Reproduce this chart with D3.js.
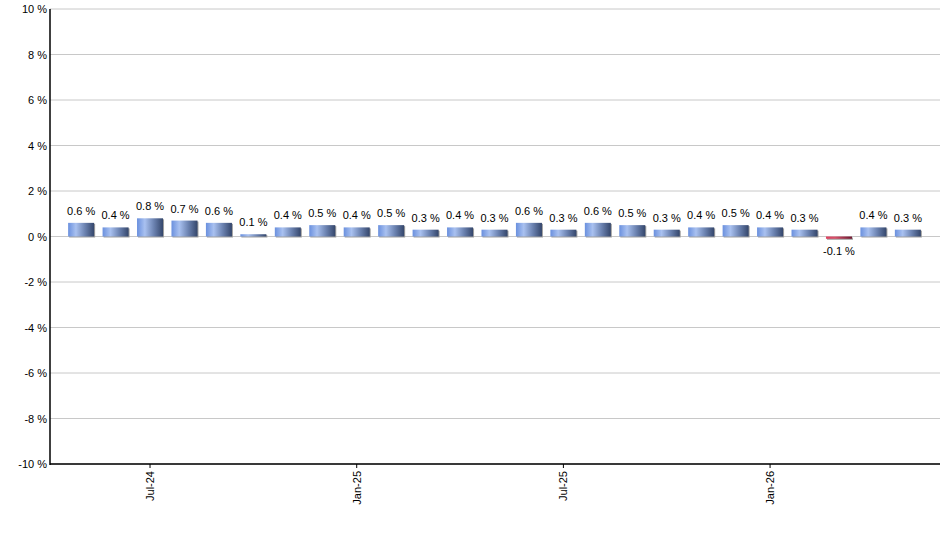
<!DOCTYPE html>
<html>
<head>
<meta charset="utf-8">
<script src="https://cdn.jsdelivr.net/npm/d3@7"></script>
<style>
  body { margin: 0; background: #fff; }
  text { font-family: Arial, "Liberation Sans", sans-serif; }
</style>
</head>
<body>
<svg id="chart" width="940" height="550"></svg>
<script>
// monthly change, May-24 .. May-26
const months = ["May-24","Jun-24","Jul-24","Aug-24","Sep-24","Oct-24","Nov-24","Dec-24",
  "Jan-25","Feb-25","Mar-25","Apr-25","May-25","Jun-25","Jul-25","Aug-25","Sep-25","Oct-25",
  "Nov-25","Dec-25","Jan-26","Feb-26","Mar-26","Apr-26","May-26"];
const values = [0.6, 0.4, 0.8, 0.7, 0.6, 0.1, 0.4, 0.5, 0.4, 0.5, 0.3, 0.4, 0.3,
  0.6, 0.3, 0.6, 0.5, 0.3, 0.4, 0.5, 0.4, 0.3, -0.1, 0.4, 0.3];
const tickMonths = ["Jul-24", "Jan-25", "Jul-25", "Jan-26"];
const yTicks = [-10, -8, -6, -4, -2, 0, 2, 4, 6, 8, 10];

const svg = d3.select("#chart");
const mLeft = 50, mRight = 940, mTop = 9, mBottom = 464;

const x = d3.scaleBand().domain(months).range([64, 925]).paddingInner(0.245).paddingOuter(0.12);
const y = d3.scaleLinear().domain([-10, 10]).range([mBottom, mTop]);

const defs = svg.append("defs");
function grad(id, stops) {
  const g = defs.append("linearGradient").attr("id", id)
    .attr("x1", "0%").attr("x2", "100%").attr("y1", "0%").attr("y2", "0%");
  stops.forEach(s => g.append("stop").attr("offset", s[0]).attr("stop-color", s[1]));
}
grad("blueGrad", [["0%", "#6a90de"], ["30%", "#a9c1f0"], ["65%", "#6b82b0"], ["100%", "#34466b"]]);
grad("redGrad", [["0%", "#e0405f"], ["35%", "#d8506a"], ["100%", "#6e1830"]]);

// gridlines
svg.append("g").selectAll("line").data(yTicks).join("line")
  .attr("x1", mLeft).attr("x2", mRight)
  .attr("y1", d => y(d)).attr("y2", d => y(d))
  .attr("stroke", "#c8c8c8").attr("stroke-width", 1);

// y labels
svg.append("g").selectAll("text").data(yTicks).join("text")
  .attr("x", mLeft - 3).attr("y", d => y(d) + 4)
  .attr("text-anchor", "end").attr("font-size", 11).attr("fill", "#000")
  .text(d => d + " %");

// bars shadow + bars
const bars = svg.append("g");
bars.selectAll("rect.shadow").data(values).join("rect").attr("class", "shadow")
  .attr("x", (d, i) => x(months[i]) + 1)
  .attr("y", d => Math.min(y(d), y(0)) + 1)
  .attr("width", x.bandwidth())
  .attr("height", d => Math.abs(y(d) - y(0)))
  .attr("fill", "#a0a0a0");
bars.selectAll("rect.bar").data(values).join("rect").attr("class", "bar")
  .attr("x", (d, i) => x(months[i]))
  .attr("y", d => Math.min(y(d), y(0)))
  .attr("width", x.bandwidth())
  .attr("height", d => Math.abs(y(d) - y(0)))
  .attr("fill", d => d < 0 ? "url(#redGrad)" : "url(#blueGrad)");

// value labels
svg.append("g").selectAll("text").data(values).join("text")
  .attr("x", (d, i) => x(months[i]) + x.bandwidth() / 2)
  .attr("y", d => d < 0 ? y(d) + 16 : y(d) - 8)
  .attr("text-anchor", "middle").attr("font-size", 11).attr("fill", "#000")
  .text(d => d.toFixed(1) + " %");

// axes
svg.append("line").attr("x1", mLeft).attr("x2", mLeft).attr("y1", mTop).attr("y2", mBottom + 1)
  .attr("stroke", "#000").attr("stroke-width", 1.5);
svg.append("line").attr("x1", mLeft).attr("x2", mRight).attr("y1", mBottom).attr("y2", mBottom)
  .attr("stroke", "#000").attr("stroke-width", 1.5);

const xt = svg.append("g").selectAll("g").data(tickMonths).join("g")
  .attr("transform", d => `translate(${x(d) + x.bandwidth() / 2},${mBottom})`);
xt.append("line").attr("y1", 0).attr("y2", 4).attr("stroke", "#000");
xt.append("text")
  .attr("transform", "rotate(-90)")
  .attr("x", -7).attr("y", 4)
  .attr("text-anchor", "end").attr("font-size", 11).attr("fill", "#000")
  .text(d => d);
</script>
</body>
</html>
